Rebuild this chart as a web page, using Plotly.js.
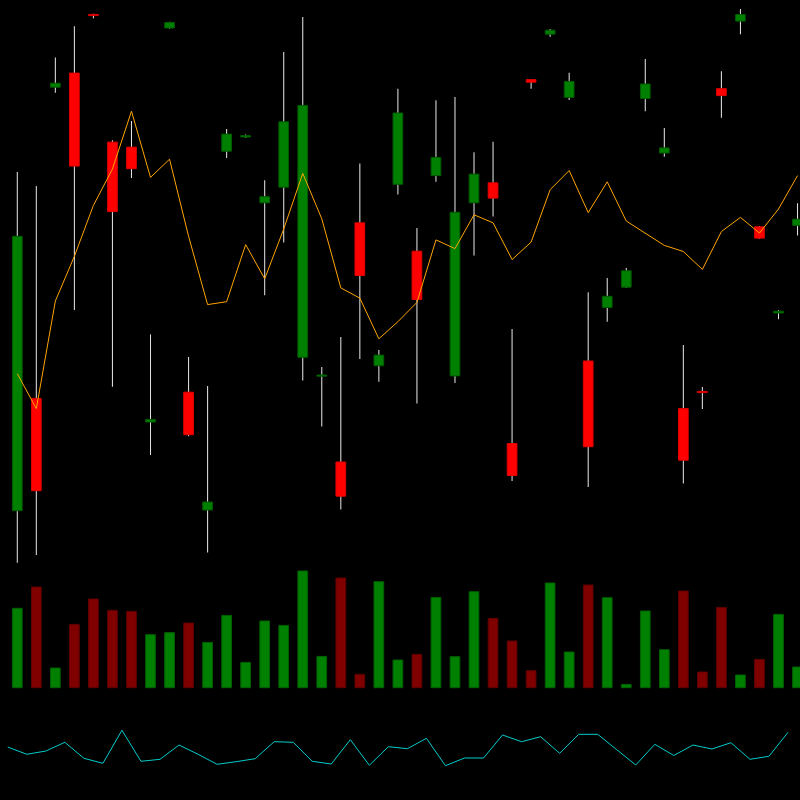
<!DOCTYPE html>
<html>
<head>
<meta charset="utf-8">
<script src="https://cdn.plot.ly/plotly-3.0.1.min.js"></script>
<style>html,body{margin:0;padding:0;background:#000;}#chart{width:800px;height:800px;}</style>
</head>
<body>
<div id="chart"></div>
<script>
const openP  = [28.93,40.16,71.28,72.69,78.50,65.79,65.28,37.80,77.20,40.78,29.00,64.88,66.30,59.72,61.28,44.27,42.38,33.80,57.72,43.43,61.57,54.88,62.44,42.41,59.72,61.72,35.65,72.04,76.58,70.26,43.90,49.25,51.28,70.15,64.70,39.14,40.82,71.13,77.89,57.32,48.70,57.46];
const highP  = [62.81,61.39,74.26,77.38,78.62,65.97,67.90,46.56,77.82,44.30,41.40,67.10,66.55,61.97,74.80,78.29,43.29,46.30,63.64,45.00,71.13,57.21,69.97,70.29,64.77,65.82,47.10,72.07,77.09,72.73,50.77,52.19,53.21,74.11,67.20,45.50,41.29,72.88,79.09,57.39,48.99,59.68];
const lowP   = [23.73,24.49,70.73,48.99,78.18,41.32,62.19,34.49,77.13,36.38,24.75,64.19,66.22,50.48,55.75,41.94,37.36,29.04,44.09,41.83,60.55,39.65,61.82,41.69,54.45,58.34,31.91,71.13,76.33,70.00,31.29,47.83,51.21,68.88,64.33,31.65,39.10,68.22,76.58,56.12,48.08,56.45];
const closeP = [56.37,30.93,71.68,63.39,78.44,58.84,63.13,38.05,77.75,36.53,29.80,66.59,66.44,60.33,67.82,69.46,42.49,30.38,52.45,44.49,68.70,50.05,64.26,58.77,62.59,60.19,32.45,71.78,76.98,71.86,35.33,50.37,52.92,71.60,65.21,33.98,40.74,70.44,78.55,56.19,48.88,58.08];
const maLine = [42.63,39.14,49.90,54.37,59.46,63.10,68.88,62.26,64.08,56.37,49.54,49.83,55.54,52.12,57.10,62.66,58.12,51.21,50.19,46.12,47.83,49.76,56.01,55.14,58.52,57.72,54.05,55.79,61.03,62.95,58.74,61.82,57.90,56.70,55.46,54.85,53.06,56.85,58.26,56.70,59.10,62.44];
const volume = [79.4,100.7,19.7,63.3,88.7,77.3,76.3,53.0,55.0,64.7,45.3,72.3,25.3,66.7,62.3,116.7,31.3,109.7,13.3,106.0,27.7,33.3,90.3,31.0,96.0,69.3,46.7,17.0,104.7,35.7,102.7,90.0,3.3,76.7,38.0,96.7,15.7,80.3,12.7,28.3,73.3,20.7];
const oscLine = [5.30,4.57,4.90,5.77,4.17,3.67,6.97,3.87,4.07,5.50,4.57,3.57,3.83,4.13,5.83,5.77,3.87,3.60,6.03,3.47,5.33,5.13,6.17,3.43,4.20,4.20,6.50,5.83,6.33,4.67,6.57,6.57,5.03,3.50,5.57,4.45,5.50,5.10,5.73,4.07,4.37,6.77];

const idx = openP.map((_, i) => i);
const up = idx.map(i => closeP[i] >= openP[i]);

const wickBase = idx.map(i => lowP[i]);
const wickH = idx.map(i => highP[i] - lowP[i]);
const bodyBase = idx.map(i => Math.min(openP[i], closeP[i]));
const bodyH = idx.map(i => Math.max(Math.abs(closeP[i] - openP[i]), 0.12));

const traces = [
  {type:'bar', x:idx, y:wickH, base:wickBase, width:0.055, xaxis:'x', yaxis:'y',
   marker:{color:'#e0e0e0', line:{width:0}}},
  {type:'bar', x:idx, y:bodyH, base:bodyBase, width:0.51, xaxis:'x', yaxis:'y',
   marker:{color: up.map(u => u ? '#008000' : '#ff0000'),
           line:{color: up.map(u => u ? '#005a00' : '#e00000'), width:1}}},
  {type:'scatter', mode:'lines', x:idx, y:maLine, xaxis:'x', yaxis:'y',
   line:{color:'#ffa500', width:1}},
  {type:'bar', x:idx, y:volume, width:0.51, xaxis:'x', yaxis:'y2',
   marker:{color: up.map(u => u ? '#008000' : '#800000'),
           line:{color: up.map(u => u ? '#006000' : '#600000'), width:1}}},
  {type:'scatter', mode:'lines', x:idx.map(i => i - 0.5), y:oscLine, xaxis:'x', yaxis:'y3',
   line:{color:'#00cccc', width:1}}
];

const hidden = {visible:false, showgrid:false, zeroline:false, fixedrange:true};
const layout = {
  width:800, height:800,
  margin:{l:0, r:0, t:0, b:0, pad:0},
  paper_bgcolor:'#000', plot_bgcolor:'#000',
  showlegend:false, barmode:'overlay', hovermode:false,
  xaxis:Object.assign({range:[-0.909, 41.13]}, hidden),
  yaxis:Object.assign({range:[0, 80], domain:[0,1]}, hidden),
  yaxis2:Object.assign({range:[-112.3, 687.7], overlaying:'y'}, hidden),
  yaxis3:Object.assign({range:[0, 80], overlaying:'y'}, hidden)
};
Plotly.newPlot('chart', traces, layout, {staticPlot:true, displayModeBar:false});
</script>
</body>
</html>
